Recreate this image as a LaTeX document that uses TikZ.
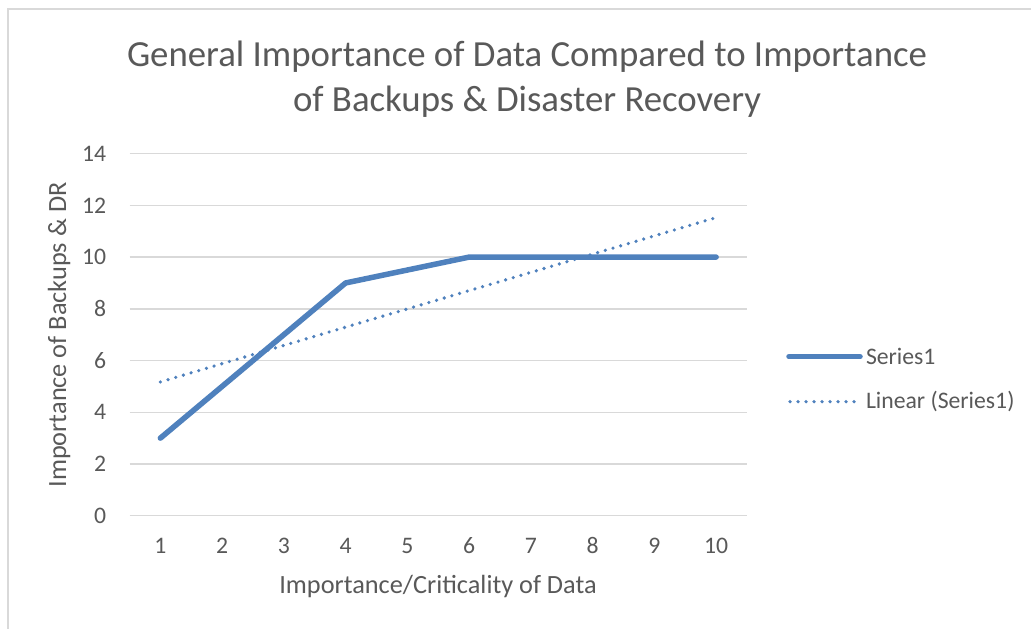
\documentclass[tikz,border=0pt]{standalone}
\usepackage{xcolor}
\usepackage{fontspec}
\setmainfont{Carlito}
\usepackage{tikz}
\usetikzlibrary{positioning}

\begin{document}
\begin{tikzpicture}[x=1pt,y=1pt,
  gridline/.style={draw=gridColor,line width=1.5pt},
  seriesline/.style={draw=lineColor,line width=5.5pt,line join=round,line cap=round},
  trendline/.style={draw=lineColor,line width=3.6pt,line cap=round,dash pattern=on 0pt off 8pt},
  ticklabel/.style={text=textColor,inner sep=0pt,outer sep=0pt,font=\fontsize{23.7}{28}\selectfont},
  axistitle/.style={text=textColor,inner sep=0pt,outer sep=0pt,font=\fontsize{26.3}{32}\selectfont}]
\definecolor{fillColor}{RGB}{255,255,255}
\definecolor{gridColor}{RGB}{217,217,217}
\definecolor{lineColor}{RGB}{79,129,189}
\definecolor{textColor}{RGB}{89,89,89}
\path[use as bounding box,fill=fillColor] (0,0) rectangle (1031,629);

% chart frame
\path[draw=gridColor,line width=2pt] (8,0) -- (8,619.5) -- (1031,619.5);

% title
\node[text=textColor,align=center,inner sep=0pt,font=\fontsize{36.8}{45}\selectfont] (title) at (527,549.5)
  {General Importance of Data Compared to Importance\\of Backups \& Disaster Recovery};

\begin{scope}[shift={(98.625,113.3)},x=61.75pt,y=25.86pt]
% gridlines and value labels
\foreach \v in {0,2,...,14} {
  \path[gridline] (0.5,\v) -- (10.5,\v);
  \node[ticklabel,anchor=east] (ylab\v) at (0.12,\v) {\v};
}
% category labels
\foreach \i in {1,...,10}
  \node[ticklabel] (xlab\i) at (\i,-1.17) {\i};

% linear trend
\path[trendline] (1,5.1727) -- (10,11.5273);

% Series1
\path[seriesline] (1,3) -- (2,5) -- (3,7) -- (4,9) -- (5,9.5) -- (6,10) --
	(7,10) -- (8,10) -- (9,10) -- (10,10);
\end{scope}

% axis titles
\node[axistitle] (xtitle) at (438,43) {Importance/Criticality of Data};
\node[axistitle,rotate=90] (ytitle) at (59,294) {Importance of Backups \& DR};

% legend
\coordinate (s1a) at (789,272.3);
\coordinate (s1b) at (860,272.3);
\coordinate (s2a) at (790,227.3);
\coordinate (s2b) at (858,227.3);
\path[seriesline] (s1a) -- (s1b);
\path[trendline] (s2a) -- (s2b);
\node[ticklabel,anchor=west,right=6pt of s1b] (leg1) {Series1};
\node[ticklabel,anchor=west,right=8pt of s2b] (leg2) {Linear (Series1)};
\end{tikzpicture}
\end{document}
